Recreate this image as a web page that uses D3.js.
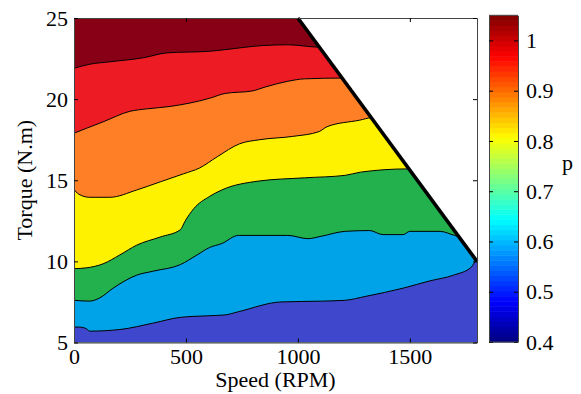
<!DOCTYPE html>
<html>
<head>
<meta charset="utf-8">
<script src="https://cdn.jsdelivr.net/npm/d3@7"></script>
<style>
  body { margin: 0; background: #fff; }
  svg text { font-family: "Liberation Serif", "Times New Roman", "DejaVu Serif", serif !important; fill: #000; }
</style>
</head>
<body>
<svg id="chart" width="581" height="394"></svg>
<script>
// tick labels
const speedTicks = [0, 500, 1000, 1500];
const torqueTicks = [5, 10, 15, 20, 25];
const pTicks = [0.4, 0.5, 0.6, 0.7, 0.8, 0.9, 1];

// contour boundaries [speed, torque], from top band to bottom band
const b1 = [[0, 21.9], [70, 22.15], [160, 22.3], [310, 22.55], [415, 22.85], [605, 22.95], [675, 23.05], [840, 23.3], [955, 23.35], [1100, 23.2]];
const b2 = [[0, 17.9], [55, 18.2], [130, 18.6], [250, 19.25], [325, 19.4], [430, 19.55], [605, 20.05], [675, 20.35], [795, 20.5], [855, 20.75], [955, 21.1], [1030, 21.25], [1210, 21.3]];
const b3 = [[0, 14.45], [20, 14.15], [70, 13.95], [160, 13.95], [280, 14.4], [385, 14.9], [490, 15.4], [560, 15.75], [640, 16.45], [740, 17.25], [830, 17.5], [975, 17.7], [1095, 18.0], [1130, 18.3], [1275, 18.7], [1330, 18.85]];
const b4 = [[0, 9.55], [55, 9.6], [130, 9.85], [205, 10.4], [280, 11.0], [385, 11.5], [475, 11.95], [495, 12.45], [535, 13.25], [605, 14.0], [660, 14.4], [825, 14.95], [1030, 15.15], [1210, 15.3], [1280, 15.5], [1490, 15.7]];
const b5 = [[0, 7.6], [70, 7.55], [115, 7.75], [175, 8.35], [280, 9.15], [355, 9.4], [475, 9.8], [550, 10.4], [605, 10.85], [660, 11.1], [735, 11.6], [955, 11.6], [1045, 11.4], [1105, 11.55], [1210, 11.85], [1320, 11.9], [1380, 11.65], [1470, 11.65], [1500, 11.85], [1635, 11.85], [1700, 11.6], [1715, 11.55]];
const b6 = [[0, 5.95], [25, 5.95], [55, 5.85], [70, 5.7], [205, 5.8], [355, 6.2], [475, 6.55], [605, 6.65], [675, 6.7], [735, 6.9], [925, 7.5], [1105, 7.55], [1210, 7.6], [1305, 7.85], [1470, 8.35], [1590, 8.8], [1695, 9.15], [1775, 9.65], [1795, 10.0]];
const boundaries = [b1, b2, b3, b4, b5, b6];

// band colours, top to bottom
const bandColors = ['#880015', '#ED1C24', '#FF7F27', '#FFF200', '#22B14C', '#00A2E8', '#3F48CC'];

// limit line (speed, torque)
const limitLine = [[1000, 25], [1800, 10]];

const svg = d3.select('#chart');
const pLeft = 74, pRight = 477, pTop = 18, pBottom = 342.5;
const serif = '"Liberation Serif", "Times New Roman", "DejaVu Serif", serif';

const x = d3.scaleLinear().domain([0, 1800]).range([pLeft, pRight]);
const y = d3.scaleLinear().domain([5, 25]).range([pBottom, pTop]);

// clip: region under the limit line
const clipPts = [[0, 25], limitLine[0], limitLine[1], [1800, 5], [0, 5]];
svg.append('clipPath').attr('id', 'zone')
  .append('path')
  .attr('d', d3.line().x(d => x(d[0])).y(d => y(d[1]))(clipPts) + 'Z');

const plot = svg.append('g').attr('clip-path', 'url(#zone)');

// top band fills everything, the others are painted under each boundary
plot.append('rect')
  .attr('x', x(0)).attr('y', y(25))
  .attr('width', x(1800) - x(0)).attr('height', y(5) - y(25))
  .attr('fill', bandColors[0]);

const ext = pts => pts.concat([[1800, pts[pts.length - 1][1]]]);

const area = d3.area()
  .x(d => x(d[0]))
  .y0(y(5))
  .y1(d => y(d[1]))
  .curve(d3.curveMonotoneX);

const line = d3.line()
  .x(d => x(d[0]))
  .y(d => y(d[1]))
  .curve(d3.curveMonotoneX);

boundaries.forEach((b, i) => {
  plot.append('path')
    .attr('d', area(ext(b)))
    .attr('fill', bandColors[i + 1]);
});

boundaries.forEach(b => {
  plot.append('path')
    .attr('d', line(ext(b)))
    .attr('fill', 'none')
    .attr('stroke', '#000')
    .attr('stroke-width', 1);
});

// limit line
svg.append('path')
  .attr('d', d3.line().x(d => x(d[0])).y(d => y(d[1]))(limitLine))
  .attr('fill', 'none')
  .attr('stroke', '#000')
  .attr('stroke-width', 3.6);

// axes
function styleAxis(g) {
  g.attr('font-family', null).attr('font-size', null);
  g.selectAll('.domain').attr('stroke', '#444').attr('stroke-width', 1);
  g.selectAll('.tick line').attr('stroke', '#000');
  g.selectAll('text').style('font-size', '22px').style('font-family', serif).attr('fill', '#000');
}

svg.append('g')
  .attr('transform', 'translate(0,' + pBottom + ')')
  .call(d3.axisBottom(x).tickValues(speedTicks).tickSizeInner(-4).tickSizeOuter(0).tickPadding(6).tickFormat(d3.format('d')))
  .call(styleAxis);

svg.append('g')
  .attr('transform', 'translate(0,' + pTop + ')')
  .call(d3.axisTop(x).tickValues(speedTicks).tickSizeInner(-4).tickSizeOuter(0).tickFormat(''))
  .call(styleAxis);

svg.append('g')
  .attr('transform', 'translate(' + pLeft + ',0)')
  .call(d3.axisLeft(y).tickValues(torqueTicks).tickSizeInner(-4).tickSizeOuter(0).tickPadding(6))
  .call(styleAxis);

svg.append('g')
  .attr('transform', 'translate(' + pRight + ',0)')
  .call(d3.axisRight(y).tickValues(torqueTicks).tickSizeInner(-4).tickSizeOuter(0).tickFormat(''))
  .call(styleAxis);

// axis titles
svg.append('text')
  .attr('x', (pLeft + pRight) / 2).attr('y', 387)
  .attr('text-anchor', 'middle')
  .style('font-size', '22px').style('font-family', serif)
  .text('Speed (RPM)');

svg.append('text')
  .attr('transform', 'translate(32,' + (pTop + pBottom) / 2 + ') rotate(-90)')
  .attr('text-anchor', 'middle')
  .style('font-size', '22px').style('font-family', serif)
  .text('Torque (N.m)');

// colorbar (jet)
function jet(t) {
  const r = Math.max(0, Math.min(1, 1.5 - Math.abs(4 * t - 3)));
  const g = Math.max(0, Math.min(1, 1.5 - Math.abs(4 * t - 2)));
  const b = Math.max(0, Math.min(1, 1.5 - Math.abs(4 * t - 1)));
  return d3.rgb(r * 255, g * 255, b * 255);
}

const cbLeft = 489, cbRight = 518;
const c = d3.scaleLinear().domain([0.4, 1.05]).range([342, 15.3]);
const nSteps = 64;
const steps = d3.range(nSteps);
const stepH = (1.05 - 0.4) / nSteps;

svg.append('g').selectAll('rect')
  .data(steps)
  .enter()
  .append('rect')
  .attr('x', cbLeft)
  .attr('width', cbRight - cbLeft)
  .attr('y', k => c(0.4 + (k + 1) * stepH))
  .attr('height', k => c(0.4 + k * stepH) - c(0.4 + (k + 1) * stepH) + 0.5)
  .attr('fill', k => jet((k + 0.5) / nSteps));

svg.append('g')
  .attr('transform', 'translate(' + cbRight + ',0)')
  .call(d3.axisRight(c).tickValues(pTicks).tickSizeInner(-4).tickSizeOuter(0).tickPadding(8).tickFormat(d => String(d)))
  .call(styleAxis);

svg.append('g')
  .attr('transform', 'translate(' + cbLeft + ',0)')
  .call(d3.axisLeft(c).tickValues(pTicks).tickSizeInner(-4).tickSizeOuter(0).tickFormat(''))
  .call(styleAxis);

svg.append('line')
  .attr('x1', cbLeft).attr('x2', cbRight)
  .attr('y1', c(1.05)).attr('y2', c(1.05))
  .attr('stroke', '#444');
svg.append('line')
  .attr('x1', cbLeft).attr('x2', cbRight)
  .attr('y1', c(0.4)).attr('y2', c(0.4))
  .attr('stroke', '#444');

svg.append('text')
  .attr('x', 562).attr('y', 170)
  .style('font-size', '22px').style('font-family', serif)
  .text('p');
</script>
</body>
</html>
